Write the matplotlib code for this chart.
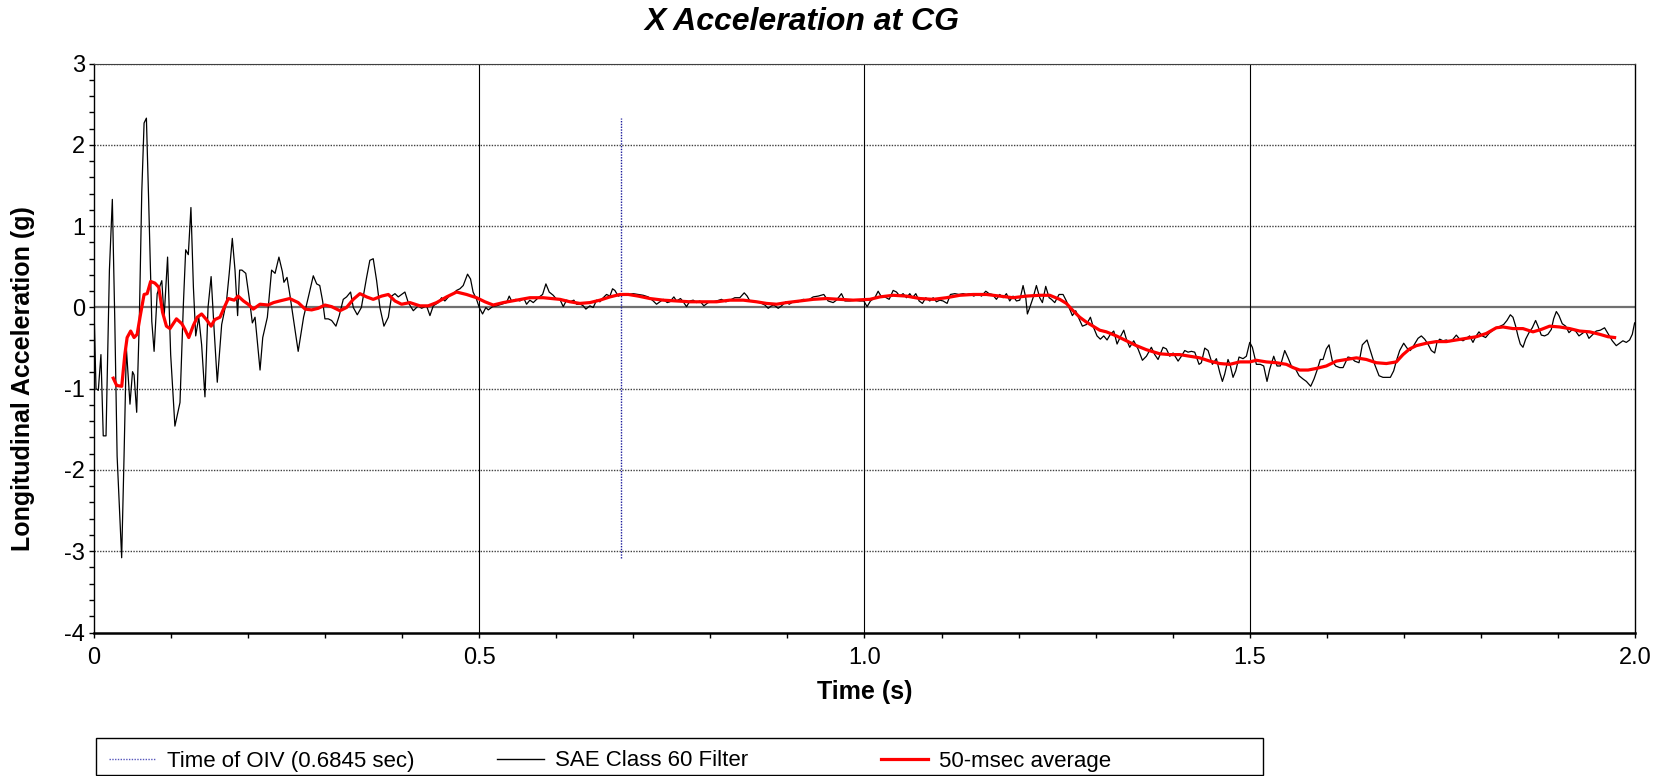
"""
Purpose: X acceleration at CG - SAE Class 60 trace, 50-msec average and OIV time
"""

import numpy as np
import matplotlib
matplotlib.use("Agg")
from matplotlib import pyplot as plt
from matplotlib.lines import Line2D
from matplotlib.patches import Rectangle

# time of occupant impact velocity [s]
OIV_TIME = 0.6845

# SAE Class 60 filtered trace
t_sae = [
    0.0000, 0.0026, 0.0056, 0.0090, 0.0120, 0.0156, 0.0200, 0.0238, 0.0270,
    0.0300, 0.0359, 0.0390, 0.0420, 0.0467, 0.0500, 0.0520, 0.0554, 0.0588,
    0.0620, 0.0650, 0.0680, 0.0710, 0.0750, 0.0780, 0.0820, 0.0880, 0.0910,
    0.0955, 0.0995, 0.1050, 0.1116, 0.1160, 0.1190, 0.1224, 0.1258, 0.1290,
    0.1320, 0.1360, 0.1397, 0.1440, 0.1480, 0.1520, 0.1560, 0.1600, 0.1657,
    0.1720, 0.1755, 0.1795, 0.1830, 0.1864, 0.1890, 0.1920, 0.1970, 0.2020,
    0.2055, 0.2090, 0.2155, 0.2190, 0.2250, 0.2305, 0.2350, 0.2400, 0.2445,
    0.2465, 0.2505, 0.2540, 0.2650, 0.2720, 0.2780, 0.2846, 0.2890, 0.2930,
    0.2967, 0.2997, 0.3040, 0.3084, 0.3140, 0.3183, 0.3235, 0.3278, 0.3330,
    0.3365, 0.3417, 0.3470, 0.3538, 0.3580, 0.3624, 0.3668, 0.3711, 0.3763,
    0.3820, 0.3862, 0.3906, 0.3949, 0.3992, 0.4035, 0.4079, 0.4144, 0.4208,
    0.4252, 0.4316, 0.4360, 0.4403, 0.4468, 0.4511, 0.4554, 0.4610, 0.4662,
    0.4706, 0.4749, 0.4792, 0.4848, 0.4887, 0.4920, 0.4965, 0.5000, 0.5043,
    0.5086, 0.5117, 0.5173, 0.5225, 0.5290, 0.5354, 0.5389, 0.5420, 0.5476,
    0.5527, 0.5580, 0.5614, 0.5657, 0.5701, 0.5766, 0.5822, 0.5865, 0.5908,
    0.5960, 0.6004, 0.6047, 0.6090, 0.6133, 0.6177, 0.6228, 0.6263, 0.6315,
    0.6350, 0.6384, 0.6436, 0.6479, 0.6523, 0.6566, 0.6609, 0.6652, 0.6696,
    0.6730, 0.6760, 0.6804, 0.6869, 0.6933, 0.6998, 0.7063, 0.7128, 0.7193,
    0.7258, 0.7301, 0.7344, 0.7388, 0.7440, 0.7474, 0.7526, 0.7561, 0.7612,
    0.7647, 0.7690, 0.7734, 0.7777, 0.7820, 0.7863, 0.7915, 0.7971, 0.8036,
    0.8080, 0.8144, 0.8201, 0.8253, 0.8317, 0.8382, 0.8439, 0.8477, 0.8512,
    0.8577, 0.8642, 0.8707, 0.8750, 0.8793, 0.8824, 0.8880, 0.8923, 0.8980,
    0.9023, 0.9074, 0.9139, 0.9204, 0.9269, 0.9334, 0.9399, 0.9472, 0.9528,
    0.9593, 0.9636, 0.9701, 0.9745, 0.9810, 0.9874, 0.9939, 0.9991, 1.0034,
    1.0077, 1.0134, 1.0177, 1.0220, 1.0263, 1.0320, 1.0372, 1.0415, 1.0458,
    1.0501, 1.0545, 1.0588, 1.0622, 1.0666, 1.0709, 1.0752, 1.0795, 1.0847,
    1.0891, 1.0934, 1.0977, 1.1020, 1.1072, 1.1115, 1.1172, 1.1228, 1.1280,
    1.1323, 1.1366, 1.1418, 1.1474, 1.1518, 1.1574, 1.1617, 1.1660, 1.1712,
    1.1755, 1.1799, 1.1842, 1.1885, 1.1928, 1.1972, 1.2015, 1.2058, 1.2093,
    1.2114, 1.2145, 1.2188, 1.2231, 1.2274, 1.2309, 1.2352, 1.2396, 1.2426,
    1.2469, 1.2525, 1.2577, 1.2620, 1.2664, 1.2698, 1.2741, 1.2785, 1.2828,
    1.2880, 1.2932, 1.2966, 1.3018, 1.3061, 1.3105, 1.3148, 1.3191, 1.3235,
    1.3278, 1.3321, 1.3365, 1.3399, 1.3442, 1.3494, 1.3550, 1.3607, 1.3659,
    1.3723, 1.3767, 1.3810, 1.3875, 1.3918, 1.3962, 1.4005, 1.4070, 1.4113,
    1.4156, 1.4199, 1.4243, 1.4286, 1.4342, 1.4372, 1.4416, 1.4459, 1.4515,
    1.4567, 1.4611, 1.4645, 1.4675, 1.4718, 1.4749, 1.4783, 1.4818, 1.4861,
    1.4913, 1.4956, 1.5000, 1.5034, 1.5086, 1.5138, 1.5181, 1.5224, 1.5259,
    1.5311, 1.5354, 1.5397, 1.5454, 1.5497, 1.5540, 1.5596, 1.5640, 1.5691,
    1.5735, 1.5791, 1.5834, 1.5878, 1.5916, 1.5951, 1.5994, 1.6029, 1.6072,
    1.6115, 1.6167, 1.6211, 1.6275, 1.6319, 1.6362, 1.6418, 1.6461, 1.6522,
    1.6565, 1.6621, 1.6678, 1.6729, 1.6781, 1.6825, 1.6868, 1.6902, 1.6946,
    1.6998, 1.7041, 1.7084, 1.7127, 1.7184, 1.7227, 1.7270, 1.7313, 1.7357,
    1.7400, 1.7430, 1.7465, 1.7508, 1.7551, 1.7595, 1.7638, 1.7681, 1.7724,
    1.7768, 1.7811, 1.7854, 1.7897, 1.7932, 1.7975, 1.8018, 1.8061, 1.8105,
    1.8157, 1.8200, 1.8252, 1.8295, 1.8338, 1.8382, 1.8416, 1.8451, 1.8481,
    1.8511, 1.8546, 1.8581, 1.8624, 1.8667, 1.8710, 1.8741, 1.8784, 1.8827,
    1.8870, 1.8914, 1.8944, 1.8979, 1.9013, 1.9056, 1.9100, 1.9143, 1.9186,
    1.9229, 1.9273, 1.9316, 1.9359, 1.9402, 1.9454, 1.9497, 1.9549, 1.9605,
    1.9649, 1.9705, 1.9757, 1.9800, 1.9843, 1.9887, 1.9930, 1.9965, 1.9995,
]
g_sae = [
    0.00, -1.00, -1.02, -0.58, -1.58, -1.58, 0.46, 1.33, -0.17,
    -1.83, -3.08, -1.83, -0.50, -1.19, -0.79, -0.83, -1.29, -0.17,
    1.42, 2.27, 2.33, 1.29, -0.17, -0.54, 0.17, 0.33, -0.12,
    0.62, -0.58, -1.46, -1.17, 0.04, 0.71, 0.65, 1.23, 0.25,
    -0.35, -0.12, -0.46, -1.10, 0.00, 0.38, -0.29, -0.92, -0.21,
    0.08, 0.42, 0.85, 0.46, -0.10, 0.46, 0.46, 0.42, 0.08,
    -0.19, -0.12, -0.77, -0.37, -0.12, 0.46, 0.42, 0.62, 0.44,
    0.31, 0.37, 0.17, -0.54, -0.12, 0.12, 0.39, 0.29, 0.27,
    0.08, -0.14, -0.14, -0.16, -0.23, -0.10, 0.10, 0.13, 0.19,
    0.00, -0.09, 0.00, 0.37, 0.58, 0.60, 0.33, 0.00, -0.23,
    -0.12, 0.14, 0.17, 0.13, 0.16, 0.19, 0.06, -0.04, 0.02,
    -0.01, 0.02, -0.10, 0.02, 0.06, 0.12, 0.08, 0.14, 0.17,
    0.21, 0.23, 0.27, 0.41, 0.35, 0.19, 0.10, 0.00, -0.08,
    0.00, -0.03, 0.01, 0.02, 0.04, 0.06, 0.14, 0.08, 0.10,
    0.08, 0.11, 0.04, 0.09, 0.06, 0.12, 0.16, 0.29, 0.19,
    0.15, 0.10, 0.10, 0.01, 0.09, 0.07, 0.09, 0.04, 0.04,
    0.02, -0.02, 0.02, 0.00, 0.09, 0.07, 0.12, 0.16, 0.14,
    0.23, 0.21, 0.14, 0.16, 0.16, 0.17, 0.16, 0.15, 0.13,
    0.08, 0.04, 0.07, 0.10, 0.06, 0.07, 0.13, 0.08, 0.11,
    0.07, 0.01, 0.08, 0.09, 0.06, 0.08, 0.02, 0.06, 0.07,
    0.08, 0.10, 0.07, 0.09, 0.12, 0.12, 0.18, 0.14, 0.08,
    0.07, 0.06, 0.03, -0.01, 0.02, 0.03, -0.01, 0.02, 0.07,
    0.04, 0.07, 0.07, 0.10, 0.09, 0.13, 0.14, 0.16, 0.08,
    0.06, 0.09, 0.17, 0.08, 0.08, 0.09, 0.08, 0.08, 0.01,
    0.08, 0.12, 0.20, 0.13, 0.13, 0.10, 0.21, 0.19, 0.14,
    0.17, 0.12, 0.17, 0.12, 0.17, 0.08, 0.05, 0.12, 0.08,
    0.12, 0.07, 0.09, 0.08, 0.05, 0.16, 0.17, 0.16, 0.17,
    0.16, 0.17, 0.14, 0.17, 0.14, 0.20, 0.17, 0.16, 0.10,
    0.16, 0.12, 0.17, 0.08, 0.14, 0.08, 0.09, 0.27, 0.12,
    -0.08, 0.00, 0.12, 0.27, 0.12, 0.06, 0.26, 0.12, 0.10,
    0.06, 0.16, 0.16, 0.08, -0.02, -0.10, -0.04, -0.14, -0.23,
    -0.21, -0.12, -0.23, -0.35, -0.39, -0.35, -0.40, -0.33, -0.29,
    -0.45, -0.36, -0.28, -0.39, -0.49, -0.41, -0.51, -0.65, -0.60,
    -0.49, -0.58, -0.64, -0.49, -0.51, -0.60, -0.56, -0.66, -0.60,
    -0.53, -0.55, -0.54, -0.55, -0.70, -0.68, -0.50, -0.53, -0.70,
    -0.63, -0.80, -0.91, -0.82, -0.64, -0.72, -0.86, -0.78, -0.61,
    -0.63, -0.60, -0.43, -0.49, -0.70, -0.70, -0.72, -0.91, -0.76,
    -0.60, -0.72, -0.72, -0.53, -0.62, -0.72, -0.76, -0.84, -0.88,
    -0.91, -0.97, -0.88, -0.76, -0.64, -0.64, -0.51, -0.46, -0.66,
    -0.72, -0.74, -0.74, -0.61, -0.62, -0.66, -0.68, -0.46, -0.40,
    -0.53, -0.70, -0.84, -0.86, -0.86, -0.86, -0.78, -0.66, -0.53,
    -0.44, -0.50, -0.53, -0.47, -0.38, -0.35, -0.39, -0.45, -0.53,
    -0.56, -0.43, -0.39, -0.41, -0.40, -0.42, -0.39, -0.34, -0.39,
    -0.41, -0.38, -0.35, -0.43, -0.36, -0.30, -0.35, -0.37, -0.32,
    -0.28, -0.25, -0.23, -0.21, -0.16, -0.09, -0.12, -0.23, -0.35,
    -0.45, -0.49, -0.39, -0.31, -0.25, -0.16, -0.23, -0.34, -0.35,
    -0.33, -0.27, -0.14, -0.05, -0.10, -0.20, -0.23, -0.31, -0.27,
    -0.29, -0.35, -0.32, -0.29, -0.38, -0.33, -0.29, -0.28, -0.25,
    -0.32, -0.41, -0.47, -0.44, -0.41, -0.43, -0.40, -0.33, -0.19,
]

# 50-msec moving average
t_avg = [
    0.0250, 0.0294, 0.0360, 0.0400, 0.0430, 0.0476, 0.0520, 0.0560, 0.0597,
    0.0650, 0.0690, 0.0735, 0.0790, 0.0840, 0.0890, 0.0940, 0.0986, 0.1070,
    0.1140, 0.1180, 0.1230, 0.1290, 0.1340, 0.1397, 0.1460, 0.1520, 0.1566,
    0.1635, 0.1690, 0.1744, 0.1820, 0.1870, 0.1940, 0.2000, 0.2067, 0.2155,
    0.2260, 0.2330, 0.2410, 0.2540, 0.2650, 0.2740, 0.2824, 0.2910, 0.2997,
    0.3084, 0.3192, 0.3278, 0.3365, 0.3451, 0.3538, 0.3624, 0.3733, 0.3820,
    0.3906, 0.3992, 0.4100, 0.4230, 0.4338, 0.4446, 0.4576, 0.4706, 0.4835,
    0.4965, 0.5073, 0.5181, 0.5311, 0.5484, 0.5657, 0.5830, 0.6047, 0.6177,
    0.6306, 0.6436, 0.6566, 0.6696, 0.6826, 0.6934, 0.7063, 0.7215, 0.7388,
    0.7561, 0.7734, 0.7906, 0.8080, 0.8253, 0.8426, 0.8598, 0.8728, 0.8858,
    0.8988, 0.9160, 0.9334, 0.9507, 0.9680, 0.9853, 1.0069, 1.0199, 1.0372,
    1.0545, 1.0718, 1.0891, 1.1063, 1.1237, 1.1410, 1.1582, 1.1755, 1.1928,
    1.2101, 1.2274, 1.2404, 1.2534, 1.2620, 1.2707, 1.2793, 1.2880, 1.2966,
    1.3053, 1.3139, 1.3269, 1.3399, 1.3529, 1.3659, 1.3832, 1.3962, 1.4091,
    1.4221, 1.4351, 1.4481, 1.4611, 1.4740, 1.4870, 1.5000, 1.5086, 1.5216,
    1.5346, 1.5476, 1.5562, 1.5649, 1.5757, 1.5865, 1.5994, 1.6124, 1.6254,
    1.6384, 1.6513, 1.6643, 1.6773, 1.6902, 1.6989, 1.7075, 1.7162, 1.7292,
    1.7421, 1.7551, 1.7681, 1.7811, 1.7940, 1.8070, 1.8200, 1.8287, 1.8416,
    1.8546, 1.8676, 1.8784, 1.8892, 1.9022, 1.9152, 1.9281, 1.9411, 1.9541,
    1.9649, 1.9735,
]
g_avg = [
    -0.87, -0.96, -0.97, -0.58, -0.37, -0.29, -0.37, -0.33, -0.12,
    0.16, 0.17, 0.32, 0.30, 0.25, -0.06, -0.23, -0.26, -0.14,
    -0.20, -0.27, -0.37, -0.22, -0.12, -0.08, -0.15, -0.23, -0.15,
    -0.12, 0.00, 0.11, 0.09, 0.14, 0.08, 0.04, -0.02, 0.04,
    0.03, 0.06, 0.08, 0.11, 0.06, -0.02, -0.03, -0.01, 0.03,
    0.01, -0.04, 0.00, 0.10, 0.17, 0.13, 0.10, 0.14, 0.16,
    0.08, 0.04, 0.06, 0.02, 0.02, 0.06, 0.13, 0.19, 0.16,
    0.12, 0.07, 0.03, 0.06, 0.09, 0.12, 0.12, 0.10, 0.07,
    0.05, 0.06, 0.09, 0.13, 0.16, 0.16, 0.14, 0.11, 0.09,
    0.08, 0.07, 0.07, 0.07, 0.09, 0.09, 0.07, 0.05, 0.04,
    0.06, 0.08, 0.10, 0.11, 0.10, 0.09, 0.10, 0.13, 0.15,
    0.14, 0.11, 0.10, 0.12, 0.15, 0.16, 0.16, 0.14, 0.12,
    0.14, 0.15, 0.15, 0.10, 0.05, -0.04, -0.12, -0.18, -0.23,
    -0.28, -0.30, -0.35, -0.41, -0.47, -0.52, -0.57, -0.58, -0.58,
    -0.60, -0.62, -0.66, -0.69, -0.70, -0.67, -0.67, -0.65, -0.67,
    -0.68, -0.70, -0.74, -0.77, -0.77, -0.75, -0.72, -0.66, -0.64,
    -0.62, -0.64, -0.68, -0.69, -0.67, -0.58, -0.51, -0.47, -0.44,
    -0.42, -0.42, -0.40, -0.38, -0.36, -0.32, -0.25, -0.24, -0.26,
    -0.26, -0.30, -0.27, -0.23, -0.24, -0.26, -0.29, -0.30, -0.33,
    -0.36, -0.37,
]

x_ticks = [0.0, 0.5, 1.0, 1.5, 2.0]
x_tick_labels = ["0", "0.5", "1.0", "1.5", "2.0"]
y_ticks = [-4, -3, -2, -1, 0, 1, 2, 3]

legend_labels = ["Time of OIV (0.6845 sec)", "SAE Class 60 Filter",
                 "50-msec average"]

FIG_W, FIG_H = 1664, 776


def plot_accel(a_outfile="out.png"):
    """ Plot X acceleration trace, average and OIV marker
    Parameters:
        a_outfile (str): Filename of the saved plot
    Returns:
        None
    """
    plt.rcParams['font.family'] = ['Liberation Sans', 'DejaVu Sans']
    plt.rcParams['axes.unicode_minus'] = False
    fig = plt.figure(figsize=(FIG_W / 100.0, FIG_H / 100.0), dpi=100)
    # axes placed to match the pixel frame of the original
    ax = fig.add_axes([94 / FIG_W, 1 - 632.5 / FIG_H, 1541 / FIG_W,
                       568.8 / FIG_H])
    ax.set_xlim(0, 2.0)
    ax.set_ylim(-4, 3)

    # grid: dotted horizontals, solid verticals, gray zero line
    for yv in y_ticks[1:-1]:
        if yv == 0:
            ax.axhline(yv, color='#707070', lw=1.6, zorder=1)
        else:
            ax.axhline(yv, color='#404040', lw=1.0, ls=(0, (1, 1)), zorder=1)
    ax.axhline(3, color='#404040', lw=1.0, ls=(0, (1, 1)), zorder=1)
    for xv in x_ticks[1:-1]:
        ax.axvline(xv, color='black', lw=0.8, zorder=1)

    t_arr = np.array(t_sae)
    g_arr = np.array(g_sae)
    ax.vlines(OIV_TIME, g_arr.min(), g_arr.max(), color='#1a1a9a',
              lw=1.0, ls=(0, (1, 1)), zorder=2)
    ax.plot(t_arr, g_arr, color='black', lw=0.9, zorder=3)
    ax.plot(t_avg, g_avg, color='#ff0000', lw=2.3, zorder=4)

    # ticks
    ax.set_xticks(x_ticks)
    ax.set_xticklabels(x_tick_labels)
    ax.set_xticks(np.arange(0.1, 2.0, 0.1), minor=True)
    ax.set_yticks(y_ticks)
    ax.set_yticks(np.arange(-4, 3.01, 0.2), minor=True)
    ax.tick_params(axis='both', which='both', direction='out', length=3.5,
                   width=1.0, labelsize=17, color='black')
    ax.tick_params(axis='y', pad=3)
    ax.tick_params(axis='x', pad=7)
    for side in ['left', 'right']:
        ax.spines[side].set_linewidth(1.0)
    ax.spines['bottom'].set_linewidth(1.8)
    ax.spines['top'].set_linewidth(0.8)
    ax.spines['top'].set_color('#404040')

    # labels
    ax.set_xlabel("Time (s)", fontsize=18, fontweight='bold')
    ax.xaxis.set_label_coords(0.5, -0.105)
    ax.xaxis.label.set_va('center')
    ax.set_ylabel("Longitudinal Acceleration (g)", fontsize=18,
                  fontweight='bold')
    ax.yaxis.set_label_coords(-0.0463, 0.446)
    ax.yaxis.label.set_va('center')
    fig.text(802 / FIG_W, 1 - 22.5 / FIG_H, "X Acceleration at CG",
             ha='center', va='center', fontsize=23, fontweight='bold',
             fontstyle='italic')

    # legend: framed box with three fixed columns
    box_x0, box_x1 = 95.5 / FIG_W, 1263 / FIG_W
    box_y0, box_y1 = 1 / FIG_H, 38.5 / FIG_H
    fig.patches.append(Rectangle((box_x0, box_y0), box_x1 - box_x0,
                                 box_y1 - box_y0, transform=fig.transFigure,
                                 fill=False, edgecolor='black', lw=1.0))
    handles = [Line2D([], [], color='#5555bb', lw=1.0, ls=(0, (1, 1))),
               Line2D([], [], color='black', lw=1.0),
               Line2D([], [], color='#ff0000', lw=2.3)]
    col_x = [109, 497, 881]
    for hh, lab, cx in zip(handles, legend_labels, col_x):
        fig.legend([hh], [lab], loc='center left',
                   bbox_to_anchor=(cx / FIG_W, 1 - 761 / FIG_H),
                   frameon=False, fontsize=16, handlelength=2.1,
                   handletextpad=0.5, borderpad=0, borderaxespad=0)
    plt.savefig(a_outfile, dpi=100)
# enddef plot_accel() #


if __name__ == "__main__":
    plot_accel()
# endif #
